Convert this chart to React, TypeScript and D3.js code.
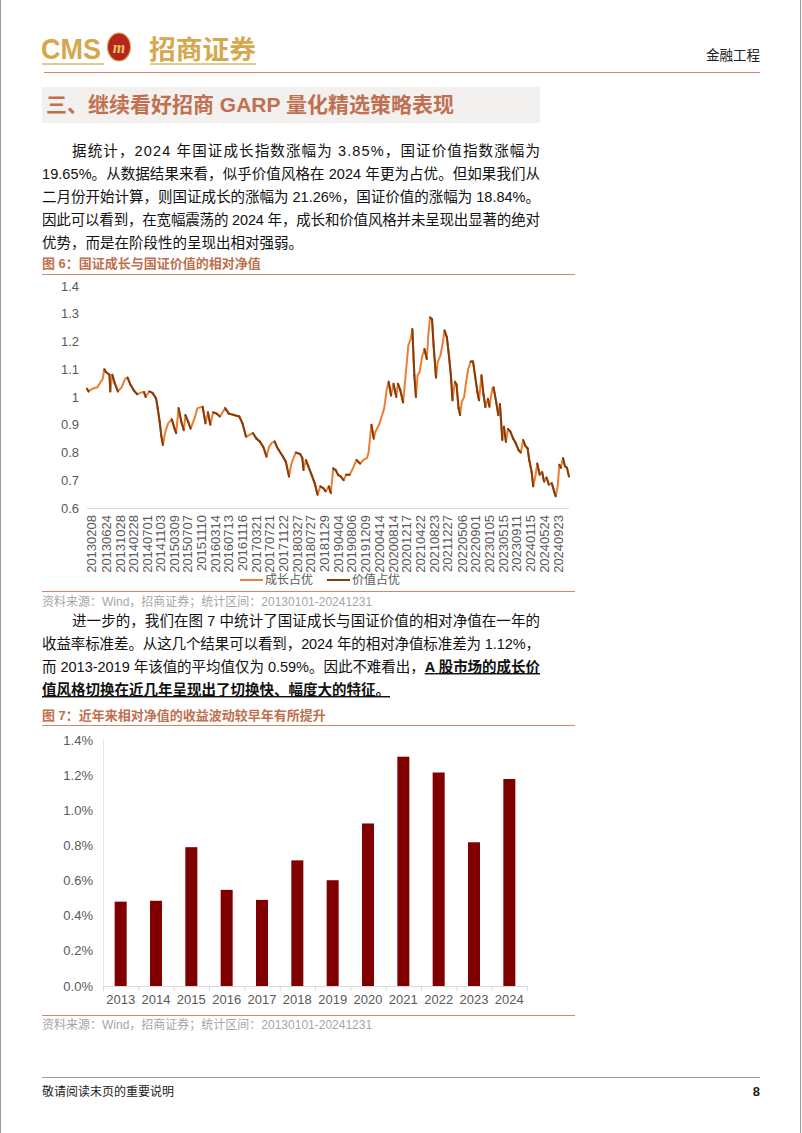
import React from 'react';
import * as d3 from 'd3';

const W = 802;
const H = 1133;
const FONT = '"Liberation Sans", Arial, "Noto Sans CJK SC", sans-serif';

// ---------- Figure 6 data: relative net value (growth / value) ----------
const navYears = [
  2013.0, 2013.04, 2013.13, 2013.26, 2013.3, 2013.39, 2013.43, 2013.47, 2013.56, 2013.58, 2013.63, 2013.69, 2013.77, 2013.86, 2013.95,
  2014.01, 2014.08, 2014.16, 2014.25, 2014.33, 2014.42, 2014.46, 2014.55, 2014.63, 2014.72, 2014.76, 2014.81, 2014.85, 2014.89, 2014.95,
  2015.02, 2015.11, 2015.18, 2015.22, 2015.28, 2015.35, 2015.41, 2015.45, 2015.52, 2015.58, 2015.67, 2015.75, 2015.88, 2015.95,
  2016.01, 2016.07, 2016.14, 2016.23, 2016.31, 2016.44, 2016.53, 2016.66, 2016.79, 2016.87, 2016.96,
  2017.04, 2017.13, 2017.22, 2017.3, 2017.39, 2017.47, 2017.53, 2017.6, 2017.67, 2017.73, 2017.77, 2017.88, 2017.95,
  2018.03, 2018.08, 2018.14, 2018.2, 2018.31, 2018.36, 2018.39, 2018.45, 2018.51, 2018.59, 2018.68, 2018.74, 2018.81, 2018.88, 2018.94,
  2019.02, 2019.07, 2019.13, 2019.19, 2019.25, 2019.32, 2019.39, 2019.45, 2019.54, 2019.62, 2019.71, 2019.8, 2019.88, 2019.97,
  2020.01, 2020.08, 2020.14, 2020.18, 2020.27, 2020.35, 2020.4, 2020.46, 2020.51, 2020.57, 2020.63, 2020.7, 2020.74, 2020.8, 2020.87, 2020.94,
  2021.0, 2021.06, 2021.1, 2021.15, 2021.19, 2021.23, 2021.28, 2021.34, 2021.4, 2021.46, 2021.5, 2021.54, 2021.59, 2021.63, 2021.69, 2021.73, 2021.8, 2021.86, 2021.9, 2021.96,
  2022.01, 2022.06, 2022.1, 2022.16, 2022.2, 2022.25, 2022.29, 2022.33, 2022.39, 2022.44, 2022.49, 2022.55, 2022.61, 2022.66, 2022.72, 2022.76, 2022.82, 2022.87, 2022.92, 2022.98,
  2023.02, 2023.09, 2023.12, 2023.19, 2023.24, 2023.28, 2023.34, 2023.38, 2023.43, 2023.48, 2023.54, 2023.61, 2023.67, 2023.74, 2023.8, 2023.86, 2023.91, 2023.97,
  2024.01, 2024.07, 2024.11, 2024.17, 2024.21, 2024.27, 2024.33, 2024.38, 2024.44, 2024.5, 2024.57, 2024.63, 2024.67, 2024.72, 2024.76, 2024.8, 2024.85, 2024.9, 2024.95, 2025.0,
];
const navValues = [
  1.03, 1.02, 1.03, 1.035, 1.045, 1.065, 1.1, 1.09, 1.08, 1.02, 1.08, 1.05, 1.02, 1.035, 1.065,
  1.07, 1.045, 1.025, 1.01, 1.015, 1.018, 1.0, 1.02, 1.015, 0.995, 0.96, 0.91, 0.86, 0.827, 0.875,
  0.905, 0.92, 0.886, 0.87, 0.96, 0.91, 0.88, 0.935, 0.91, 0.886, 0.92, 0.96, 0.965, 0.905,
  0.945, 0.9, 0.945, 0.94, 0.93, 0.96, 0.94, 0.935, 0.93, 0.905, 0.857,
  0.863, 0.87, 0.85, 0.84, 0.82, 0.785, 0.82, 0.835, 0.84, 0.82, 0.81, 0.785, 0.767,
  0.713, 0.755, 0.78, 0.8, 0.794, 0.78, 0.737, 0.773, 0.75, 0.72, 0.684, 0.648, 0.678, 0.672, 0.66,
  0.678, 0.654, 0.743, 0.737, 0.72, 0.713, 0.7, 0.72, 0.72, 0.743, 0.773, 0.76, 0.773, 0.78,
  0.8, 0.9, 0.85, 0.875, 0.9, 0.935, 0.96, 1.025, 1.055, 1.005, 1.048, 1.0, 1.048, 1.025, 0.98, 1.09,
  1.185, 1.21, 1.245, 1.078, 1.0, 1.078, 1.09, 1.143, 1.173, 1.137, 1.227, 1.287, 1.28, 1.185, 1.07, 1.125, 1.15, 1.197, 1.24, 1.215,
  1.15, 1.078, 0.988, 1.055, 1.045, 0.96, 0.935, 0.983, 1.0, 1.055, 1.1, 1.128, 1.128, 1.078, 1.018, 0.988, 1.078, 1.01, 0.964, 0.994,
  0.965, 1.03, 1.035, 0.98, 0.935, 0.975, 0.845, 0.893, 0.838, 0.885, 0.875, 0.85, 0.835, 0.81, 0.8, 0.845, 0.825, 0.815,
  0.773, 0.73, 0.678, 0.72, 0.76, 0.72, 0.73, 0.695, 0.71, 0.684, 0.69, 0.66, 0.642, 0.68, 0.756, 0.745, 0.78, 0.75, 0.745, 0.713,
];
const navDateLabels = [
  '20130208', '20130624', '20131028', '20140228', '20140701', '20141103', '20150309', '20150707', '20151110',
  '20160314', '20160713', '20161116', '20170321', '20170721', '20171122', '20180327', '20180727', '20181129',
  '20190404', '20190806', '20191209', '20200414', '20200814', '20201217', '20210422', '20210823', '20211227',
  '20220506', '20220901', '20230105', '20230515', '20230911', '20240115', '20240524', '20240923',
];
const navTicks = [0.6, 0.7, 0.8, 0.9, 1.0, 1.1, 1.2, 1.3, 1.4];
const navSeriesNames = ['成长占优', '价值占优'];

// ---------- Figure 7 data: yearly std of relative net value returns (%) ----------
const stdYears = ['2013', '2014', '2015', '2016', '2017', '2018', '2019', '2020', '2021', '2022', '2023', '2024'];
const stdValues = [0.48, 0.485, 0.79, 0.547, 0.49, 0.715, 0.602, 0.925, 1.305, 1.215, 0.818, 1.178];
const stdTicks = [0, 0.2, 0.4, 0.6, 0.8, 1.0, 1.2, 1.4];

// ---------- Text ----------
const sectionTitle = '三、继续看好招商 GARP 量化精选策略表现';
const para1 = [
  '据统计，2024 年国证成长指数涨幅为 3.85%，国证价值指数涨幅为',
  '19.65%。从数据结果来看，似乎价值风格在 2024 年更为占优。但如果我们从',
  '二月份开始计算，则国证成长的涨幅为 21.26%，国证价值的涨幅为 18.84%。',
  '因此可以看到，在宽幅震荡的 2024 年，成长和价值风格并未呈现出显著的绝对',
  '优势，而是在阶段性的呈现出相对强弱。',
];
const para2Plain = [
  '进一步的，我们在图 7 中统计了国证成长与国证价值的相对净值在一年的',
  '收益率标准差。从这几个结果可以看到，2024 年的相对净值标准差为 1.12%，',
  '而 2013-2019 年该值的平均值仅为 0.59%。因此不难看出，',
  '',
];
const para2Bold = ['', '', 'A 股市场的成长价', '值风格切换在近几年呈现出了切换快、幅度大的特征。'];
const fig6Title = '图 6：国证成长与国证价值的相对净值';
const fig7Title = '图 7：近年来相对净值的收益波动较早年有所提升';
const sourceText = '资料来源：Wind，招商证券；统计区间：20130101-20241231';

const ORANGE = '#ED7D31';
const BROWN = '#843C0C';
const TITLE_C = '#c0704f';
const RULE_C = '#d2866c';
const AXIS_TXT = '#595959';

function dateToYear(s: string): number {
  const p = d3.timeParse('%Y%m%d')(s) as Date;
  const y = p.getFullYear();
  const start = new Date(y, 0, 1).getTime();
  const end = new Date(y + 1, 0, 1).getTime();
  return y + (p.getTime() - start) / (end - start);
}

function Paragraph({ lines, bold, x0, indent, y0, lh, right, justifyLast }: any) {
  return (
    <g>
      {lines.map((ln: string, i: number) => {
        const b = bold ? bold[i] : '';
        const x = i === 0 ? x0 + indent : x0;
        const justify = i < lines.length - 1 || justifyLast;
        const extra: any = justify ? { textLength: right - x, lengthAdjust: 'spacing' } : {};
        return (
          <text key={i} x={x} y={y0 + i * lh} fontSize={14.5} fill="#111" fontFamily={FONT} {...extra}>
            {ln}
            {b ? (
              <tspan fontWeight="bold" textDecoration="underline" style={{ textDecoration: 'underline' }}>
                {b}
              </tspan>
            ) : null}
          </text>
        );
      })}
    </g>
  );
}

function Fig6() {
  const x = d3.scaleLinear().domain([2013, 2025]).range([87, 569]);
  const y = d3.scaleLinear().domain([0.6, 1.4]).range([508, 286]);
  const segs = navValues.slice(1).map((v, i) => ({
    x1: x(navYears[i]),
    y1: y(navValues[i]),
    x2: x(navYears[i + 1]),
    y2: y(v),
    up: v > navValues[i],
  }));
  const line = d3.line<number>().x((_, i) => x(navYears[i])).y((d) => y(d));
  return (
    <g fontFamily={FONT}>
      {navTicks.map((t) => (
        <text key={t} x={79} y={y(t)} dy="0.35em" textAnchor="end" fontSize={13} fill={AXIS_TXT}>
          {String(+t.toFixed(1))}
        </text>
      ))}
      <line x1={87} x2={569} y1={508.5} y2={508.5} stroke="#d9d9d9" strokeWidth={1} />
      <path d={line(navValues) || ''} fill="none" stroke={ORANGE} strokeWidth={2} strokeLinejoin="round" />
      {segs.map((s, i) =>
        !s.up ? (
          <line key={i} x1={s.x1} y1={s.y1} x2={s.x2} y2={s.y2} stroke={BROWN} strokeWidth={2} strokeLinecap="round" />
        ) : null
      )}
      {navDateLabels.map((d) => {
        const xx = x(dateToYear(d));
        return (
          <text key={d} x={xx} y={515} transform={`rotate(-90, ${xx}, 515)`} textAnchor="end" dy="0.35em" fontSize={13} fill={AXIS_TXT}>
            {d}
          </text>
        );
      })}
      <line x1={240} x2={263} y1={580} y2={580} stroke={ORANGE} strokeWidth={2} />
      <text x={265} y={580} dy="0.35em" fontSize={12} fill={AXIS_TXT}>{navSeriesNames[0]}</text>
      <line x1={327} x2={350} y1={580} y2={580} stroke={BROWN} strokeWidth={2} />
      <text x={352} y={580} dy="0.35em" fontSize={12} fill={AXIS_TXT}>{navSeriesNames[1]}</text>
    </g>
  );
}

function Fig7() {
  const x = d3.scaleBand().domain(stdYears).range([103, 527]).paddingInner(0.66).paddingOuter(0.33);
  const y = d3.scaleLinear().domain([0, 1.4]).range([986, 740]);
  const step = x.step();
  const fmt = d3.format('.1f');
  return (
    <g fontFamily={FONT}>
      {stdTicks.map((t) => (
        <text key={t} x={93} y={y(t)} dy="0.35em" textAnchor="end" fontSize={13} fill={AXIS_TXT}>
          {fmt(t) + '%'}
        </text>
      ))}
      <line x1={103.5} x2={103.5} y1={740} y2={986} stroke="#e6e6e6" />
      {stdYears.map((yr, i) => (
        <rect key={yr} x={x(yr)} y={y(stdValues[i])} width={x.bandwidth()} height={986 - y(stdValues[i])} fill="#800000" />
      ))}
      <line x1={103} x2={527} y1={986.5} y2={986.5} stroke="#d9d9d9" />
      {d3.range(stdYears.length + 1).map((i) => (
        <line key={i} x1={103 + i * step + 0.5} x2={103 + i * step + 0.5} y1={986} y2={991} stroke="#d9d9d9" />
      ))}
      {stdYears.map((yr) => (
        <text key={yr} x={(x(yr) as number) + x.bandwidth() / 2} y={999} dy="0.35em" textAnchor="middle" fontSize={13} fill={AXIS_TXT}>
          {yr}
        </text>
      ))}
    </g>
  );
}

export default function App() {
  return (
    <svg width={W} height={H} style={{ position: 'absolute', left: 0, top: 0, background: '#fff' }} fontFamily={FONT}>
      <rect x={0} y={0} width={W} height={H} fill="#fff" />
      <line x1={0.5} x2={0.5} y1={0} y2={H} stroke="#9a9a9a" />
      <line x1={800.5} x2={800.5} y1={0} y2={H} stroke="#9a9a9a" />

      {/* Header */}
      <text x={41} y={59} fontSize={30} fontWeight="bold" fill="#d6a84e" fontFamily='"Liberation Sans Narrow", "Liberation Sans", sans-serif' textLength={60} lengthAdjust="spacingAndGlyphs">CMS</text>
      <line x1={42} x2={104} y1={64} y2={64} stroke="#dcb96a" strokeWidth={1.5} />
      <ellipse cx={119} cy={47} rx={11.5} ry={14} fill="#b5251c" stroke="#d6a84e" strokeWidth={1.2} />
      <text x={119} y={53} textAnchor="middle" fontSize={16} fontWeight="bold" fontStyle="italic" fill="#f0c860" fontFamily='"Liberation Serif", serif'>m</text>
      <text x={149} y={59} fontSize={26} fontWeight="bold" fill="#d6a84e" fontFamily='"Noto Sans CJK SC", sans-serif' textLength={107} lengthAdjust="spacingAndGlyphs">招商证券</text>
      <line x1={150} x2={256} y1={64} y2={64} stroke="#dcb96a" strokeWidth={1.5} />
      <text x={760} y={60} textAnchor="end" fontSize={13.5} fill="#222" fontFamily='"Noto Sans CJK SC", sans-serif'>金融工程</text>
      <line x1={44} x2={760} y1={72.5} y2={72.5} stroke={RULE_C} strokeWidth={1.2} />

      {/* Section title */}
      <rect x={42} y={87} width={498} height={36} fill="#f3f0f0" />
      <text x={46} y={112} fontSize={21} fontWeight="bold" fill={TITLE_C} fontFamily={FONT}>{sectionTitle}</text>

      <Paragraph lines={para1} x0={42} indent={30} y0={156} lh={23} right={540} />

      {/* Figure 6 */}
      <text x={42} y={268} fontSize={13} fontWeight="bold" fill={TITLE_C}>{fig6Title}</text>
      <line x1={42} x2={575} y1={274.5} y2={274.5} stroke={RULE_C} strokeWidth={1.2} />
      <Fig6 />
      <line x1={42} x2={575} y1={591.5} y2={591.5} stroke={RULE_C} strokeWidth={1.2} />
      <text x={42} y={606} fontSize={12} fill="#a6a6a6">{sourceText}</text>

      <Paragraph lines={para2Plain} bold={para2Bold} x0={42} indent={30} y0={626} lh={23} right={540} />

      {/* Figure 7 */}
      <text x={42} y={720} fontSize={13} fontWeight="bold" fill={TITLE_C}>{fig7Title}</text>
      <line x1={42} x2={575} y1={725.5} y2={725.5} stroke={RULE_C} strokeWidth={1.2} />
      <Fig7 />
      <line x1={42} x2={575} y1={1015.5} y2={1015.5} stroke={RULE_C} strokeWidth={1.2} />
      <text x={42} y={1029} fontSize={12} fill="#a6a6a6">{sourceText}</text>

      {/* Footer */}
      <line x1={42} x2={760} y1={1077.5} y2={1077.5} stroke="#a0a0a0" />
      <text x={42} y={1096} fontSize={12} fill="#222" fontFamily='"Noto Sans CJK SC", sans-serif'>敬请阅读末页的重要说明</text>
      <text x={760} y={1096} textAnchor="end" fontSize={13} fontWeight="bold" fill="#222">8</text>
    </svg>
  );
}
